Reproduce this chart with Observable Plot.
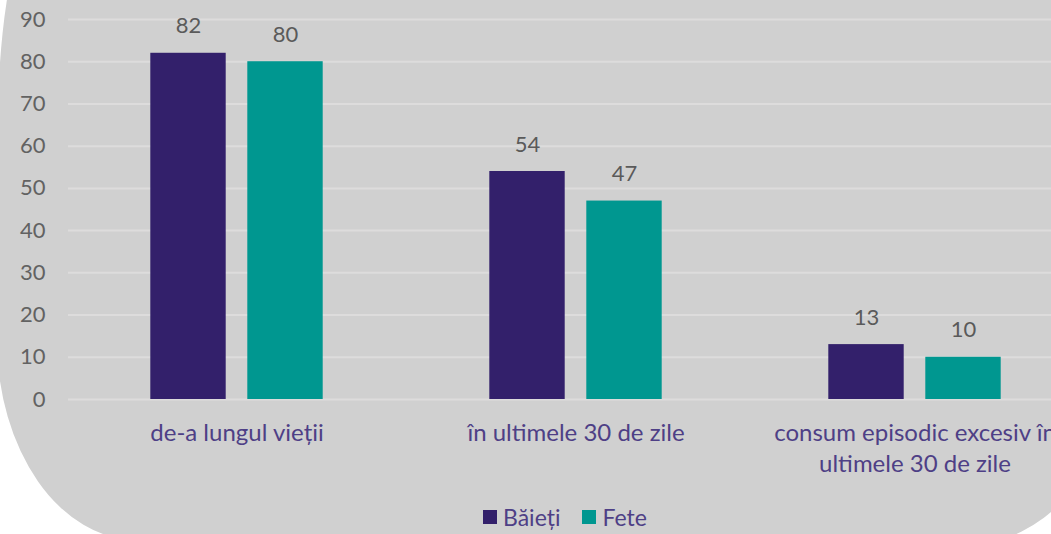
<!DOCTYPE html>
<html>
<head>
<meta charset="utf-8">
<script src="https://cdn.jsdelivr.net/npm/d3@7"></script>
<script src="https://cdn.jsdelivr.net/npm/@observablehq/plot@0.6"></script>
<style>
  html, body { margin: 0; padding: 0; background: #ffffff; overflow: hidden; }
  #wrap { position: relative; width: 1051px; height: 534px; }
  #bg { position: absolute; left: 0; top: 0; }
  #chart { position: absolute; left: 0; top: 0; }
  #legend { position: absolute; left: 483px; top: 503px; display: flex; align-items: center;
            font-family: Lato, "Open Sans", sans-serif; font-size: 23px; color: #4e3f86; }
  .sw { display: inline-block; width: 14px; height: 14px; margin-right: 6px; }
  .item { display: flex; align-items: center; margin-right: 22px; }
</style>
</head>
<body>
<div id="wrap">
  <svg id="bg" width="1051" height="534">
    <path d="M30,-60 A33,210 0 0 0 -3,150 L-3,340 A140,200 0 0 0 137,540 L940,550 A147,110 0 0 0 1087,440 L1087,-60 Z" fill="#d0d0d0"></path>
  </svg>
  <div id="chart"></div>
  <div id="legend"></div>
</div>
<script>
const categories = ["de-a lungul vieții", "în ultimele 30 de zile", "consum episodic excesiv în ultimele 30 de zile"];
const categoryLabels = ["de-a lungul vieții", "în ultimele 30 de zile", "consum episodic excesiv în\nultimele 30 de zile"];
const series = ["Băieți", "Fete"];
const baieti = [82, 54, 13];
const fete = [80, 47, 10];
const yTicks = [0, 10, 20, 30, 40, 50, 60, 70, 80, 90];
const colors = ["#33206b", "#009790"];

const rows = [];
categories.forEach((c, i) => {
  rows.push({category: c, series: series[0], value: baieti[i]});
  rows.push({category: c, series: series[1], value: fete[i]});
});
const labelRows = categories.map((c, i) => ({category: c, label: categoryLabels[i]}));

const font = "Lato, 'Open Sans', sans-serif";
const outer = 32.3, inner = 129.3, half = 48.5;

const plot = Plot.plot({
  width: 1051,
  height: 500,
  marginLeft: 68,
  marginRight: 0,
  marginTop: 19,
  marginBottom: 101,
  style: {background: "transparent", fontFamily: font},
  x: {domain: categories, range: [117.7, 1034.4], paddingInner: 0.3, paddingOuter: 0, axis: null},
  y: {domain: [0, 90], ticks: yTicks, axis: null},
  color: {domain: series, range: colors},
  marks: [
    Plot.ruleY(yTicks, {stroke: "#dddcdc", strokeWidth: 2}),
    Plot.axisY(yTicks, {tickSize: 0, tickPadding: 23, fontSize: 22, fill: "#626262", label: null}),
    Plot.barY(rows.filter(d => d.series === series[0]), {x: "category", y: "value", fill: "series", insetLeft: outer, insetRight: inner}),
    Plot.barY(rows.filter(d => d.series === series[1]), {x: "category", y: "value", fill: "series", insetLeft: inner, insetRight: outer}),
    Plot.text(rows.filter(d => d.series === series[0]), {x: "category", y: "value", text: d => String(d.value), dx: -half, dy: -27, fontSize: 22, fill: "#5a5a5a"}),
    Plot.text(rows.filter(d => d.series === series[1]), {x: "category", y: "value", text: d => String(d.value), dx: half, dy: -27, fontSize: 22, fill: "#5a5a5a"}),
    Plot.text(labelRows, {x: "category", y: 0, text: "label", lineAnchor: "top", dy: 19, fontSize: 24, lineHeight: 1.3, fill: "#4e3f86"})
  ]
});
document.getElementById("chart").appendChild(plot);

const legend = document.getElementById("legend");
series.forEach((s, i) => {
  const item = document.createElement("span");
  item.className = "item";
  const sw = document.createElement("span");
  sw.className = "sw";
  sw.style.background = colors[i];
  item.appendChild(sw);
  item.appendChild(document.createTextNode(s));
  legend.appendChild(item);
});
</script>
</body>
</html>
